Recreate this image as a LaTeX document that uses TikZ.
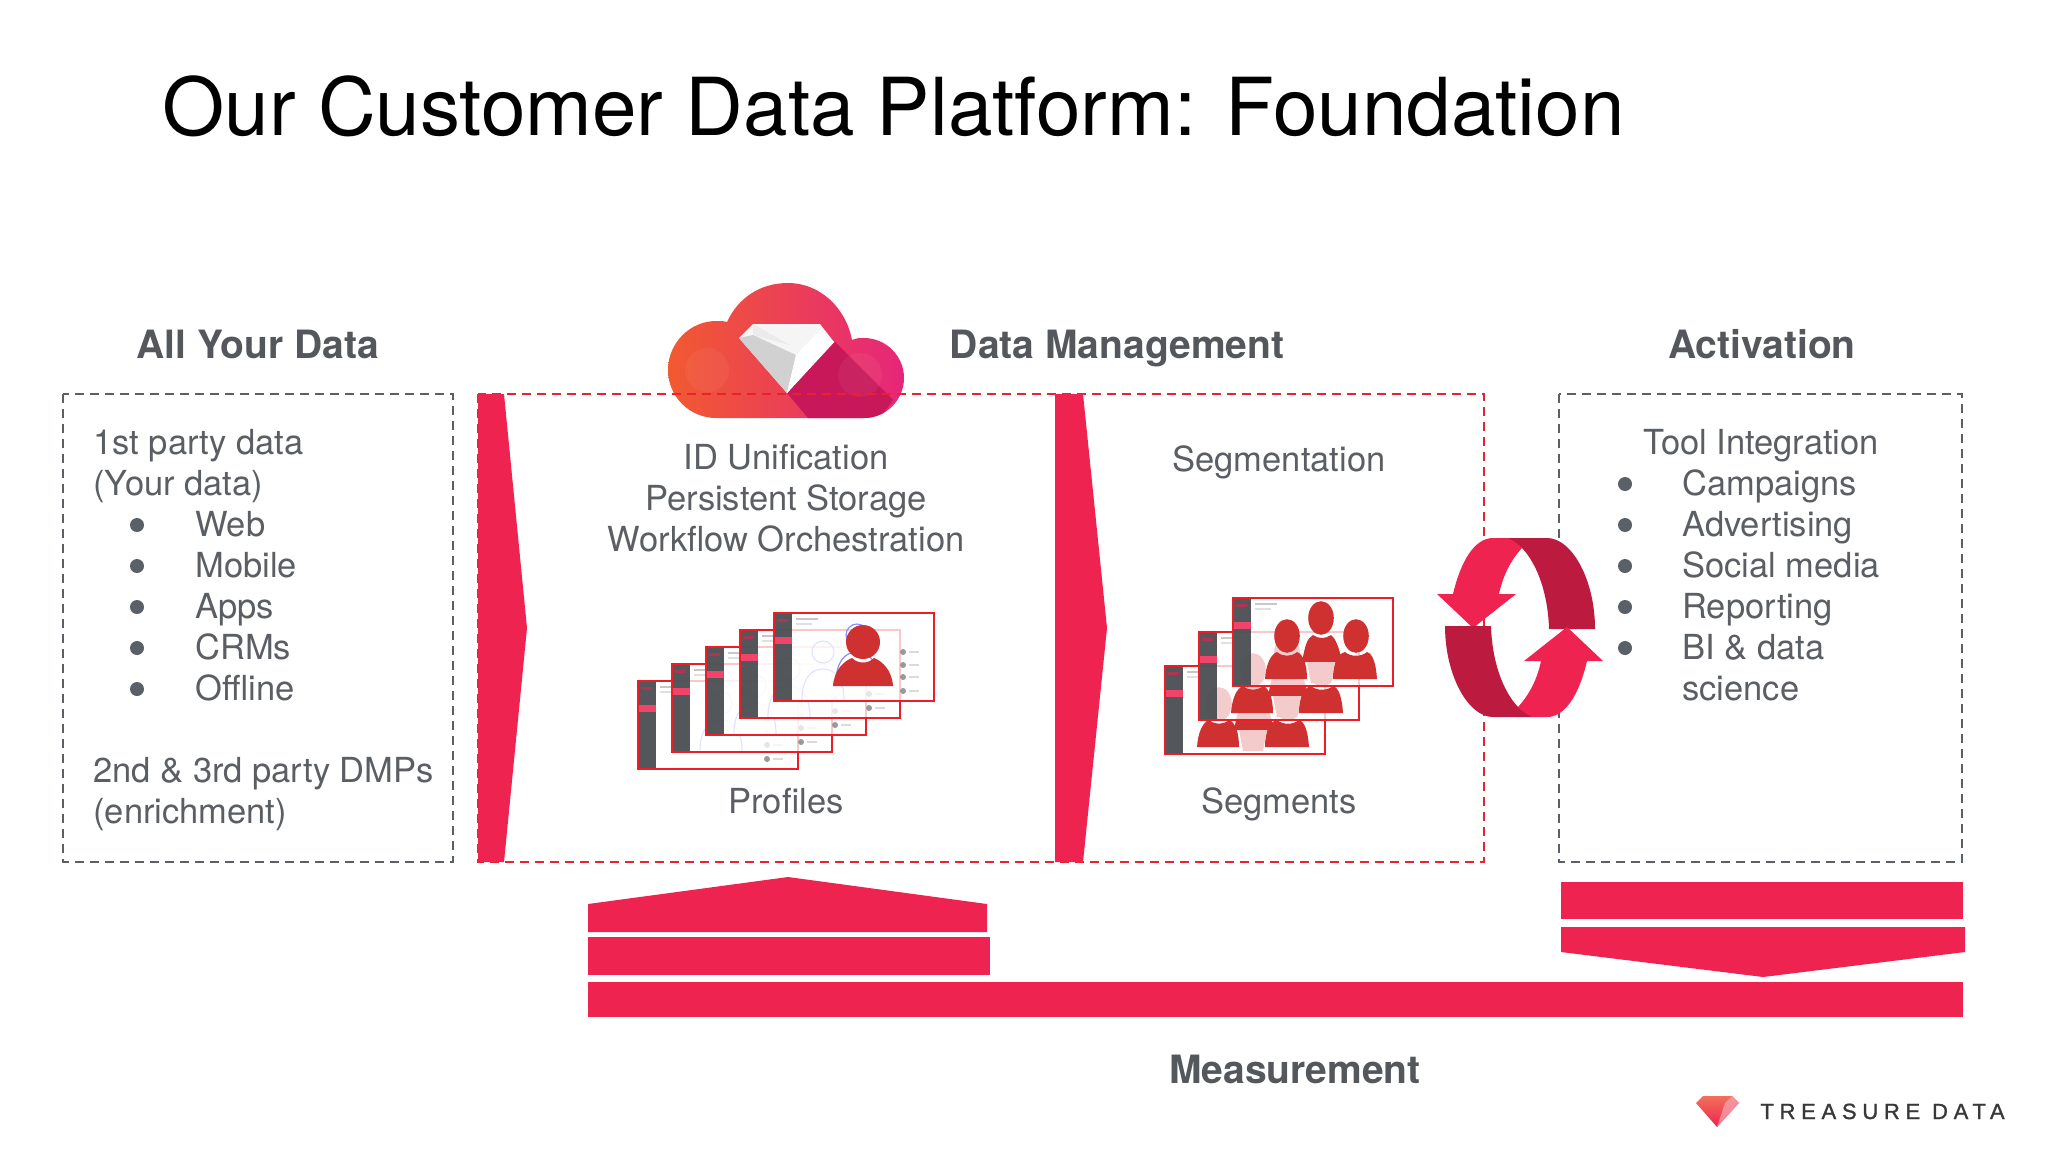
\documentclass[tikz,border=0pt]{standalone}
\usepackage{fontspec}
\setmainfont{TeX Gyre Heros}
\newfontfamily\logofont{Liberation Sans}[LetterSpace=26,FakeBold=1.2]
\usetikzlibrary{calc}
\definecolor{txt}{HTML}{5B5F64}
\definecolor{hdr}{HTML}{54585D}
\definecolor{brand}{HTML}{EE2350}
\definecolor{brandd}{HTML}{BC1A3F}
\definecolor{dashr}{HTML}{E8222E}
\definecolor{dashg}{HTML}{5A6068}
\definecolor{iconr}{HTML}{CF3030}
\definecolor{frame}{HTML}{EE1C25}
\definecolor{side}{HTML}{4C5054}
\definecolor{cloudl}{HTML}{F15A30}
\definecolor{cloudm}{HTML}{EF2F55}
\definecolor{cloudr}{HTML}{E6267A}
\definecolor{cloudd}{HTML}{C8185A}
\definecolor{logot}{HTML}{F2705A}
\tikzset{
  x=0.5pt,y=-0.5pt,
  body/.style={font=\fontsize{17.25}{20}\selectfont,text=txt,inner sep=0pt},
  lft/.style={body,anchor=base west},
  ctr/.style={body,anchor=base},
  head/.style={font=\fontsize{19.5}{22}\selectfont\bfseries,text=hdr,inner sep=0pt,anchor=base},
  bul/.style={circle,fill=dashg,inner sep=0pt,minimum size=7pt},
  dbox/.style={line width=1.1pt,dash pattern=on 4.4pt off 3.1pt},
  band/.style={fill=brand},
}
% screen thumbnail: #1 content, #2 x-left, #3 y-top
\newcommand\screenthumb[3]{%
  \begin{scope}[shift={(#2,#3)}]
    \fill[white,opacity=.76] (0,0) rectangle (160,88);
    \fill[side,opacity=.96] (0,0) rectangle (18,88);
    \fill[brand!85!white] (0,24) rectangle (18,31);
    \fill[brand!60!side] (3,6) rectangle (14,9);
    \fill[black!22] (22,5) rectangle (44,7);
    \fill[black!12] (22,10) rectangle (38,12);
    #1
    \draw[frame,line width=.75pt] (0,0) rectangle (160,88);
  \end{scope}}
\newcommand\ghost{%
  \draw[blue!45,line width=.6pt] (83,22) circle[radius=5.5pt];
  \draw[blue!45,line width=.6pt] (62,70) .. controls (62,50) and (70,39) .. (83,39) .. controls (96,39) and (104,50) .. (104,70);
  \foreach \yy in {39,52,64,78}{
    \fill[black!40] (129,\yy) circle[radius=1.5pt];
    \fill[black!14] (135,\yy-1) rectangle (145,\yy+1);
  }}
\newcommand\personicon{%
  \fill[iconr] (89,29) circle[radius=8.5pt];
  \fill[iconr] (59,73) .. controls (60,57) and (70,48) .. (78,45) .. controls (84,51) and (94,51) .. (100,45) .. controls (108,48) and (118,57) .. (119,73) -- cycle;}
\newcommand\crowd{%
  \fill[iconr] (54,38) ellipse[x radius=6.4pt,y radius=8.4pt];
  \fill[iconr] (123,38) ellipse[x radius=6.4pt,y radius=8.4pt];
  \fill[iconr] (88,20) ellipse[x radius=6.4pt,y radius=8.4pt];
  \fill[iconr] (32,81) .. controls (33,66) and (38,56) .. (44,54) .. controls (50,59) and (58,59) .. (64,54) .. controls (70,56) and (74,66) .. (74,81) -- cycle;
  \fill[iconr] (100,81) .. controls (100,66) and (104,56) .. (112,54) .. controls (118,59) and (128,59) .. (134,54) .. controls (140,56) and (143,66) .. (144,81) -- cycle;
  \fill[iconr] (69,64) .. controls (72,48) and (74,40) .. (80,37) .. controls (86,41) and (92,41) .. (98,37) .. controls (102,40) and (106,48) .. (109,64) -- cycle;
  \fill[iconr!25!white] (74,64) -- (102,64) -- (98,85) -- (78,85) -- cycle;}
\newcommand\cycarrows{%
  \fill[brandd] (1507,538) -- (1547,538) .. controls (1572,538) and (1595,580) .. (1595,629) -- (1549,629) .. controls (1548,595) and (1538,565) .. (1522,548) -- cycle;
  \fill[brand] (1473,628) -- (1437,594) -- (1453,594) .. controls (1461,560) and (1475,538) .. (1493,538) -- (1507,538) .. controls (1513,540) and (1518,544) .. (1522,548) .. controls (1511,560) and (1503,575) .. (1499,594) -- (1516,594) -- cycle;}
\begin{document}
\begin{tikzpicture}
\useasboundingbox (0,0) rectangle (2048,1152);
\fill[white] (0,0) rectangle (2048,1152);

% title
\node[anchor=base west,inner sep=0pt,text=black,font=\fontsize{40}{46}\selectfont] (title) at (162,135) {Our Customer Data Platform: Foundation};

% headers
\node[head] (hAll) at (258,358) {All Your Data};
\node[head] (hDM) at (1117,358) {Data Management};
\node[head] (hAct) at (1762,358) {Activation};
\node[head] (hMeas) at (1295,1083) {Measurement};

% cloud
\begin{scope}
  \path[clip] (716,418) .. controls (690,418) and (668,397) .. (668,370) .. controls (668,343) and (690,321) .. (716,321)
     .. controls (720,321) and (724,321) .. (727,322) .. controls (738,298) and (760,283) .. (788,283)
     .. controls (820,283) and (846,308) .. (852,340) .. controls (856,338) and (860,338) .. (864,338)
     .. controls (886,338) and (904,356) .. (904,378) .. controls (904,400) and (886,418) .. (864,418) -- cycle;
  \shade[left color=cloudl,middle color=cloudm,right color=cloudr] (668,283) rectangle (904,418);
  \fill[cloudd] (787,393) -- (835,342) -- (887,394) -- (893,400) -- (880,418) -- (808,418) -- cycle;
  \fill[white,opacity=.05] (707,370) circle[radius=11pt];
  \fill[white,opacity=.05] (860,375) circle[radius=11pt];
\end{scope}
\fill[white!96!black] (739,338) -- (753,324) -- (820,324) -- (834,342) -- (787,393) -- cycle;
\fill[black!18] (739,338) -- (753,335) -- (796,355) -- (787,393) -- cycle;
\fill[black!8] (753,324) -- (790,345) -- (753,335) -- cycle;
\fill[white] (796,355) -- (820,330) -- (834,342) -- (787,393) -- cycle;

% boxes
\draw[dbox,dashg] (63,394) rectangle (453,862);
\draw[dbox,dashr] (478,394) rectangle (1484,862);
\draw[dbox,dashg] (1559,394) rectangle (1962,862);

% chevrons
\fill[band] (478,394) -- (504,394) -- (527,628) -- (504,862) -- (478,862) -- cycle;
\fill[band] (1055,394) -- (1083,394) -- (1107,628) -- (1083,862) -- (1055,862) -- cycle;

% left column
\node[lft] (a1) at (93,454) {1st party data};
\node[lft] (a2) at (93,495) {(Your data)};
\foreach \n/\t/\y in {a3/Web/536,a4/Mobile/577,a5/Apps/618,a6/CRMs/659,a7/Offline/700}{
  \node[lft] (\n) at (195,\y) {\t};
  \node[bul] (b\n) at (137,\y-11) {};
}
\node[lft] (a8) at (93,782) {2nd \& 3rd party DMPs};
\node[lft] (a9) at (93,823) {(enrichment)};

% middle
\node[ctr] (m1) at (786,469) {ID Unification};
\node[ctr] (m2) at (786,510) {Persistent Storage};
\node[ctr] (m3) at (786,551) {Workflow Orchestration};
\node[ctr] (m4) at (1279,471) {Segmentation};
\node[ctr] (m5) at (786,813) {Profiles};
\node[ctr] (m6) at (1279,813) {Segments};

% profile stack
\screenthumb{\ghost}{638}{681}
\screenthumb{\ghost}{672}{664}
\screenthumb{\ghost}{706}{647}
\screenthumb{\ghost}{740}{630}
\screenthumb{\ghost\personicon}{774}{613}

% segment stack
\screenthumb{\crowd}{1165}{666}
\screenthumb{\crowd}{1199}{632}
\screenthumb{\crowd}{1233}{598}

% cycle arrows
\cycarrows
\begin{scope}[rotate around={180:(1520,627.5)}]
  \cycarrows
\end{scope}

% right column
\node[ctr] (r0) at (1761,454) {Tool Integration};
\foreach \n/\t/\y in {r1/Campaigns/495,r2/Advertising/536,r3/Social media/577,r4/Reporting/618,r5/BI \& data/659}{
  \node[lft] (\n) at (1682,\y) {\t};
  \node[bul] (b\n) at (1625,\y-11) {};
}
\node[lft] (r6) at (1682,700) {science};

% bars
\fill[band] (588,904) -- (788,877) -- (987,904) -- (987,932) -- (588,932) -- cycle;
\fill[band] (588,937) rectangle (990,975);
\fill[band] (588,982) rectangle (1963,1017);
\fill[band] (1561,882) rectangle (1963,919);
\fill[band] (1561,927) -- (1965,927) -- (1965,952) -- (1763,977) -- (1561,952) -- cycle;

% logo
\shade[top color=logot,bottom color=brand] (1696,1103) -- (1703,1096) -- (1732,1096) -- (1739,1103) -- (1717,1127) -- cycle;
\fill[brand!40!white,opacity=.7] (1739,1103) -- (1732,1096) -- (1725,1103) -- (1717,1127) -- cycle;
\node[anchor=base west,inner sep=0pt,text=black!78,font=\logofont\fontsize{11}{12}\selectfont] (logo) at (1760,1119) {TREASURE DATA};
\end{tikzpicture}
\end{document}
